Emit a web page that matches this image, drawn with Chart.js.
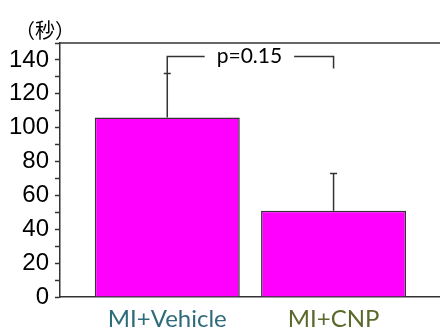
<!DOCTYPE html>
<html>
<head>
<meta charset="utf-8">
<script src="https://cdn.jsdelivr.net/npm/chart.js@4.4.1/dist/chart.umd.min.js"></script>
<style>
html,body{margin:0;padding:0;background:#fff;}
canvas{display:block;}
</style>
</head>
<body>
<canvas id="c" width="440" height="332"></canvas>
<script>
// ---- data ----
const categories = ['MI+Vehicle', 'MI+CNP'];
const labelColors = ['#2F6C7A', '#5A6A2C'];
const means = [106, 51];
const errTop = [132, 73];          // mean + SD
const yMin = 0, yMax = 150, yMajorStep = 20, yMinorStep = 10, yLabelMax = 140;
const unitLabel = '（秒）';
const pLabel = 'p=0.15';
const bracketLevel = 142;          // value level of the bracket
const bracketRightEnd = 135;       // value where right arm ends

const lineColor = '#333333';

const overlayPlugin = {
  id: 'overlay',
  afterDatasetsDraw(chart) {
    const ctx = chart.ctx;
    const ys = chart.scales.y;
    const area = chart.chartArea;
    ctx.save();
    ctx.strokeStyle = lineColor;
    ctx.lineWidth = 1.5;
    // top frame line
    ctx.beginPath();
    ctx.moveTo(area.left, area.top);
    ctx.lineTo(area.right, area.top);
    ctx.stroke();
    // error bars
    const meta = chart.getDatasetMeta(0);
    meta.data.forEach((bar, i) => {
      const x = bar.x;
      const y0 = ys.getPixelForValue(means[i]);
      const y1 = ys.getPixelForValue(errTop[i]);
      ctx.beginPath();
      ctx.moveTo(x, y0);
      ctx.lineTo(x, y1);
      ctx.moveTo(x - 3.5, y1);
      ctx.lineTo(x + 3.5, y1);
      ctx.stroke();
    });
    // significance bracket
    const xa = meta.data[0].x, xb = meta.data[1].x;
    const yb = ys.getPixelForValue(bracketLevel);
    ctx.font = '21px Lato';
    const tw = ctx.measureText(pLabel).width;
    const xm = (xa + xb) / 2 - 1;
    const gap = 12;
    ctx.beginPath();
    ctx.moveTo(xa, ys.getPixelForValue(errTop[0]));
    ctx.lineTo(xa, yb);
    ctx.lineTo(xm - tw / 2 - gap, yb);
    ctx.moveTo(xm + tw / 2 + gap, yb);
    ctx.lineTo(xb, yb);
    ctx.lineTo(xb, ys.getPixelForValue(bracketRightEnd));
    ctx.stroke();
    ctx.fillStyle = '#000';
    ctx.textAlign = 'center';
    ctx.textBaseline = 'middle';
    ctx.fillText(pLabel, xm, yb);
    // unit label
    ctx.font = '20px "Noto Sans CJK JP"';
    ctx.textAlign = 'center';
    ctx.fillText(unitLabel, area.left - 15, area.top - 13);
    ctx.restore();
  }
};

new Chart(document.getElementById('c'), {
  type: 'bar',
  data: {
    datasets: [{
      data: means.map((v, i) => ({x: i, y: v})),
      backgroundColor: '#FF00FF',
      borderColor: lineColor,
      borderWidth: 1.5,
      barPercentage: 0.872,
      categoryPercentage: 1.0
    }]
  },
  options: {
    responsive: false,
    devicePixelRatio: 1,
    animation: false,
    layout: {padding: {top: 43, left: 0, right: 0, bottom: 0}},
    plugins: {legend: {display: false}, tooltip: {enabled: false}},
    scales: {
      x: {
        type: 'linear',
        offset: false,
        min: -0.645,
        max: 1.64,
        bounds: 'data',
        afterBuildTicks: (s) => { s.ticks = categories.map((c, i) => ({value: i})); },
        afterFit: (s) => { s.height = 35; },
        grid: {display: false, drawTicks: false, offset: false},
        border: {display: true, color: lineColor, width: 1.5},
        ticks: {
          autoSkip: false,
          maxRotation: 0,
          padding: 8,
          font: {family: 'Lato', size: 24},
          color: (ctx) => labelColors[ctx.index],
          callback: (v, i) => categories[i]
        }
      },
      y: {
        min: yMin,
        max: yMax,
        afterFit: (s) => { s.width = 60; },
        grid: {display: true, drawOnChartArea: false, drawTicks: true, tickLength: 5, color: lineColor, tickWidth: 1.5},
        border: {display: true, color: lineColor, width: 1.5},
        ticks: {
          stepSize: yMinorStep,
          autoSkip: false,
          padding: 6,
          color: '#000',
          font: {family: 'Liberation Sans', size: 24},
          callback: (v) => (v % yMajorStep === 0 && v <= yLabelMax) ? String(v) : ''
        }
      }
    }
  },
  plugins: [overlayPlugin]
});
</script>
</body>
</html>
